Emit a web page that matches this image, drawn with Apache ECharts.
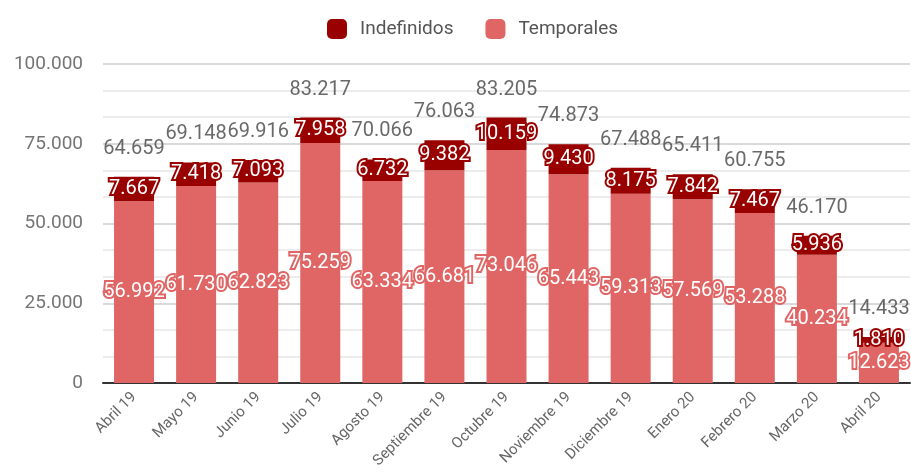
<!DOCTYPE html>
<html>
<head>
<meta charset="utf-8">
<script src="https://cdn.jsdelivr.net/npm/echarts@6/dist/echarts.min.js"></script>
<style>
  html, body { margin: 0; padding: 0; background: #fff; }
  #chart { width: 911px; height: 472px; }
</style>
</head>
<body>
<div id="chart"></div>
<script>
const meses = ['Abril 19', 'Mayo 19', 'Junio 19', 'Julio 19', 'Agosto 19', 'Septiembre 19', 'Octubre 19',
  'Noviembre 19', 'Diciembre 19', 'Enero 20', 'Febrero 20', 'Marzo 20', 'Abril 20'];
const indefinidos = [7667, 7418, 7093, 7958, 6732, 9382, 10159, 9430, 8175, 7842, 7467, 5936, 1810];
const temporales = [56992, 61730, 62823, 75259, 63334, 66681, 73046, 65443, 59313, 57569, 53288, 40234, 12623];
const totales = [64659, 69148, 69916, 83217, 70066, 76063, 83205, 74873, 67488, 65411, 60755, 46170, 14433];

// separador de miles con punto
function fmt(v) {
  return String(Math.round(v)).replace(/\B(?=(\d{3})+(?!\d))/g, '.');
}

const chart = echarts.init(document.getElementById('chart'));

const option = {
  animation: false,
  textStyle: { fontFamily: 'Roboto' },
  legend: {
    data: ['Indefinidos', 'Temporales'],
    top: 14,
    left: 322,
    icon: 'roundRect',
    itemWidth: 20,
    itemHeight: 20,
    itemGap: 32,
    textStyle: { fontSize: 19, color: '#555', padding: [0, 0, 0, 8] }
  },
  grid: {
    left: 103,
    right: 1,
    top: 64,
    bottom: 89
  },
  xAxis: {
    type: 'category',
    data: meses,
    axisLine: { show: true, lineStyle: { color: '#333', width: 2 } },
    axisTick: { show: false },
    axisLabel: {
      rotate: 45,
      fontSize: 15,
      color: '#666',
      margin: 12,
      interval: 0
    }
  },
  yAxis: {
    type: 'value',
    min: 0,
    max: 100000,
    interval: 25000,
    axisLine: { show: false },
    axisTick: { show: false },
    axisLabel: {
      fontSize: 19,
      color: '#757575',
      margin: 20,
      formatter: fmt
    },
    splitLine: { lineStyle: { color: '#cccccc', width: 1.5 } },
    minorTick: { show: false, splitNumber: 3 },
    minorSplitLine: { show: true, lineStyle: { color: '#e6e6e6', width: 1.5 } }
  },
  series: [
    {
      name: 'Temporales',
      type: 'bar',
      stack: 'total',
      barWidth: 40,
      data: temporales,
      itemStyle: { color: '#e06666' },
      label: {
        show: true,
        position: 'inside',
        fontSize: 20,
        color: '#fff',
        textBorderColor: '#e06666',
        textBorderWidth: 4,
        formatter: p => fmt(p.value)
      }
    },
    {
      name: 'Indefinidos',
      type: 'bar',
      stack: 'total',
      barWidth: 40,
      data: indefinidos,
      itemStyle: { color: '#990000' },
      label: {
        show: true,
        position: 'inside',
        fontSize: 20,
        color: '#fff',
        textBorderColor: '#990000',
        textBorderWidth: 4,
        formatter: p => fmt(p.value)
      }
    },
    {
      name: 'Total',
      type: 'scatter',
      data: totales,
      symbolSize: 0,
      silent: true,
      z: 5,
      label: {
        show: true,
        position: 'top',
        distance: 18,
        fontSize: 20,
        color: '#444',
        formatter: p => fmt(p.value)
      }
    }
  ]
};

chart.setOption(option);
</script>
</body>
</html>
